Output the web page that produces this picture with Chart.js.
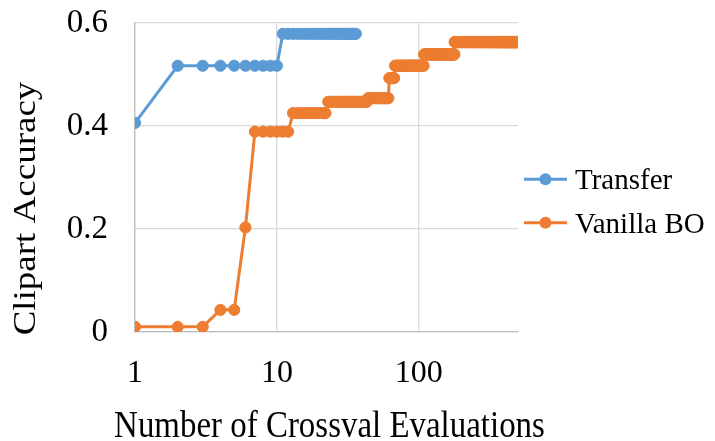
<!DOCTYPE html>
<html><head><meta charset="utf-8">
<script src="https://cdn.jsdelivr.net/npm/chart.js@4.4.1/dist/chart.umd.min.js"></script>
<style>html,body{margin:0;padding:0;background:#fff;overflow:hidden}#wrap{width:715px;height:441px;position:relative}</style>
</head><body><div id="wrap"><canvas id="c"></canvas></div>
<script>
// ---- data ----
const seriesNames = ['Transfer', 'Vanilla BO'];
// step runs: evaluation index where each accuracy level begins, and the level
const transferRunStart = [1, 2, 11];
const transferRunValue = [0.406, 0.517, 0.579];
const transferLastEval = 36;
const vanillaRunStart = [1, 4, 6, 7, 13, 23, 44, 62, 68, 109, 179];
const vanillaRunValue = [0.01, 0.043, 0.203, 0.389, 0.425, 0.447, 0.454, 0.493, 0.517, 0.539, 0.563];
const vanillaLastEval = 500;
const xTickValues = [1, 10, 100];
const xTickLabels = ['1', '10', '100'];
const yTickValues = [0, 0.2, 0.4, 0.6];
const yTickLabels = ['0', '0.2', '0.4', '0.6'];
const xTitle = 'Number of Crossval Evaluations';
const yTitle = 'Clipart Accuracy';

function expandRuns(starts, values, last) {
  const pts = [];
  for (let i = 0; i < starts.length; i++) {
    const end = i + 1 < starts.length ? starts[i + 1] - 1 : last;
    for (let n = starts[i]; n <= end; n++) pts.push({x: n, y: values[i]});
  }
  return pts;
}

const FONT = "'Liberation Serif','Times New Roman',serif";
const COLORS = ['#5B9BD5', '#ED7D31'];

const customLegendAndTitles = {
  id: 'customLegendAndTitles',
  afterDraw(chart) {
    const ctx = chart.ctx;
    const area = chart.chartArea;
    const lineY = [179.3, 222.7];
    ctx.save();
    chart.data.datasets.forEach((ds, i) => {
      const y = lineY[i];
      ctx.strokeStyle = ds.borderColor;
      ctx.lineWidth = 3;
      ctx.beginPath(); ctx.moveTo(area.right + 6, y); ctx.lineTo(area.right + 49, y); ctx.stroke();
      ctx.fillStyle = ds.borderColor;
      ctx.beginPath(); ctx.arc(area.right + 27.5, y, 6, 0, Math.PI * 2); ctx.fill();
      ctx.fillStyle = '#000';
      ctx.font = '29px ' + FONT;
      ctx.textBaseline = 'alphabetic';
      ctx.textAlign = 'left';
      ctx.fillText(ds.label, area.right + 57, y + 10);
    });
    ctx.restore();

    // x-axis title
    ctx.save();
    ctx.translate((area.left + area.right) / 2 + 3, 436.5);
    ctx.scale(0.89, 1);
    ctx.font = '37px ' + FONT;
    ctx.fillStyle = '#000';
    ctx.textAlign = 'center';
    ctx.textBaseline = 'alphabetic';
    ctx.fillText(xTitle, 0, 0);
    ctx.restore();

    // y-axis title
    ctx.save();
    ctx.translate(35, 208.5);
    ctx.rotate(-Math.PI / 2);
    ctx.scale(1, 0.88);
    ctx.font = '37px ' + FONT;
    ctx.fillStyle = '#000';
    ctx.textAlign = 'center';
    ctx.textBaseline = 'alphabetic';
    ctx.fillText(yTitle, 0, 0);
    ctx.restore();
  }
};

new Chart(document.getElementById('c'), {
  type: 'line',
  data: {
    datasets: [
      {label: seriesNames[0], data: expandRuns(transferRunStart, transferRunValue, transferLastEval)},
      {label: seriesNames[1], data: expandRuns(vanillaRunStart, vanillaRunValue, vanillaLastEval)}
    ].map((d, i) => Object.assign(d, {
      borderColor: COLORS[i], backgroundColor: COLORS[i],
      pointBackgroundColor: COLORS[i], pointBorderColor: COLORS[i],
      borderWidth: 3, pointRadius: 5.6, pointBorderWidth: 1, tension: 0, fill: false
    }))
  },
  options: {
    animation: false, responsive: true, maintainAspectRatio: false,
    layout: {padding: {top: 23, right: 197, left: 0, bottom: 0}},
    plugins: {legend: {display: false}, tooltip: {enabled: false}},
    scales: {
      x: {
        type: 'logarithmic', min: 1, max: 500,
        afterBuildTicks: s => { s.ticks = xTickValues.map(v => ({value: v})); },
        afterFit: s => { s.height = 109; s.paddingLeft = 0; s.paddingRight = 0; },
        ticks: {autoSkip: false, maxRotation: 0, padding: 22, color: '#000',
          font: {family: FONT, size: 32, lineHeight: 1.2},
          callback: (v, i) => xTickLabels[i]},
        grid: {color: '#d9d9d9', lineWidth: 1.3, drawTicks: false},
        border: {color: '#bfbfbf', width: 1.3},
        title: {display: false}
      },
      y: {
        min: 0, max: 0.6,
        afterBuildTicks: s => { s.ticks = yTickValues.map(v => ({value: v})); },
        afterFit: s => { s.width = 135; s.paddingTop = 0; s.paddingBottom = 0; },
        ticks: {padding: 27, color: '#000', font: {family: FONT, size: 33, lineHeight: 1.2},
          callback: (v, i) => yTickLabels[i]},
        grid: {color: '#d9d9d9', lineWidth: 1.3, drawTicks: false},
        border: {color: '#bfbfbf', width: 1.3},
        title: {display: false}
      }
    }
  },
  plugins: [customLegendAndTitles]
});
</script></body></html>
